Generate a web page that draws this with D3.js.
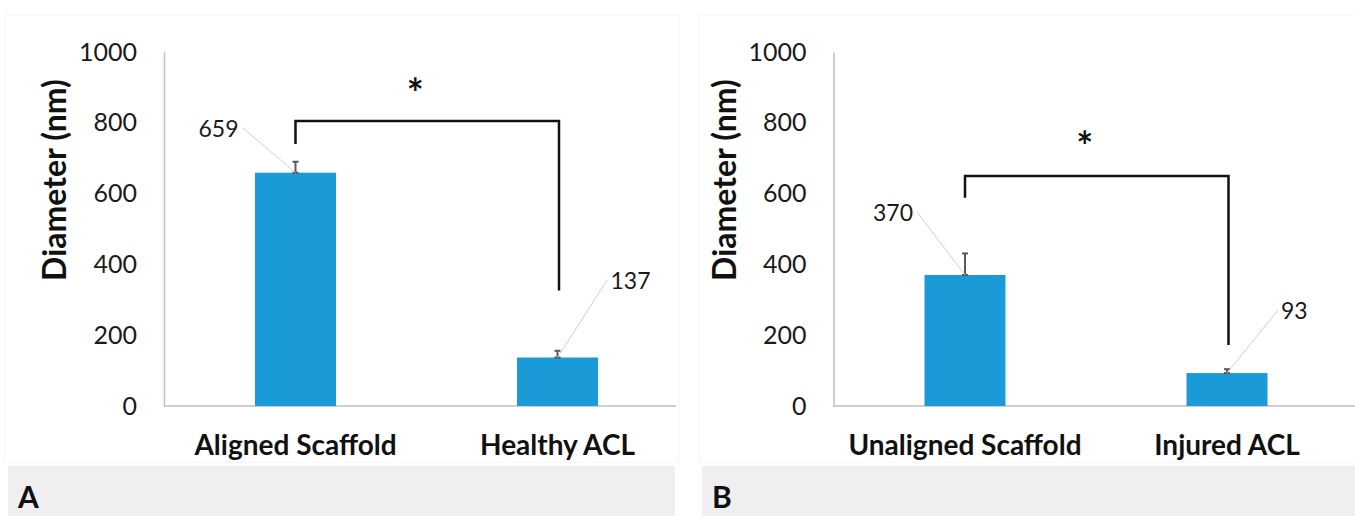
<!DOCTYPE html>
<html><head><meta charset="utf-8">
<script src="https://cdn.jsdelivr.net/npm/d3@7"></script>
<style>
html,body{margin:0;padding:0;background:#fff;}
svg{display:block;}
text{font-family:Lato,"Open Sans",sans-serif;}
</style></head>
<body>
<svg id="c" width="1355" height="516"></svg>
<script>
// ---- data ----
const panelLetters = ["A", "B"];
const categoriesA = ["Aligned Scaffold", "Healthy ACL"];
const valuesA = [659, 137];
const errorsA = [31, 19];
const categoriesB = ["Unaligned Scaffold", "Injured ACL"];
const valuesB = [370, 93];
const errorsB = [61, 11];
const yTicks = [0, 200, 400, 600, 800, 1000];
const yTitle = "Diameter (nm)";
// significance bracket (data units): [left leg bottom, top, right leg bottom]
const bracketA = [740, 805, 326];
const bracketB = [588, 650, 172];
const starA = 890, starB = 740;

// ---- layout / style ----
const BAR = "#1a9bd7";
const panels = [
  {x0: 164, cats: categoriesA, vals: valuesA, errs: errorsA, bracket: bracketA, star: starA, letter: panelLetters[0],
   frame: [5, 15, 674, 447], box: [8, 466, 667, 50], baseEnd: 676,
   labels: [{side: "left", lx: -53, ly: -45}, {side: "right", lx: 50, ly: -78}]},
  {x0: 833.5, cats: categoriesB, vals: valuesB, errs: errorsB, bracket: bracketB, star: starB, letter: panelLetters[1],
   frame: [699, 15, 660, 447], box: [702, 466, 653, 50], baseEnd: 1355,
   labels: [{side: "left", lx: -48, ly: -63}, {side: "right", lx: 51, ly: -63}]}
];

const svg = d3.select("#c");
const y = d3.scaleLinear().domain([0, 1000]).range([406, 52]);

panels.forEach(p => {
  const g = svg.append("g");
  // faint frame
  g.append("rect").attr("x", p.frame[0]).attr("y", p.frame[1]).attr("width", p.frame[2]).attr("height", p.frame[3])
    .attr("fill", "none").attr("stroke", "#f6f6f6").attr("stroke-width", 1);
  // bottom grey box
  g.append("rect").attr("x", p.box[0]).attr("y", p.box[1]).attr("width", p.box[2]).attr("height", p.box[3])
    .attr("fill", "#efefef");
  g.append("text").attr("x", p.box[0] + 10).attr("y", p.box[1] + 42)
    .attr("font-size", 30).attr("font-weight", 700).attr("fill", "#111").text(p.letter);

  const x = d3.scalePoint().domain(p.cats).range([p.x0 + 131.5, p.x0 + 393.5]);
  const bw = 81;

  // y axis
  const ax = g.append("g").attr("transform", `translate(${p.x0},0)`)
    .call(d3.axisLeft(y).tickValues(yTicks).tickFormat(d3.format("d")).tickSize(0).tickPadding(27).tickSizeOuter(0));
  ax.select(".domain").attr("stroke", "#bfbfbf").attr("stroke-width", 1.5);
  ax.selectAll("text").attr("font-size", 25).attr("fill", "#1a1a1a").attr("font-family", "Lato");

  // baseline
  g.append("line").attr("x1", p.x0).attr("x2", p.baseEnd).attr("y1", y(0)).attr("y2", y(0))
    .attr("stroke", "#bfbfbf").attr("stroke-width", 1.5);

  // y title
  g.append("text").attr("transform", `translate(${p.x0 - 98},180) rotate(-90)`)
    .attr("text-anchor", "middle").attr("font-size", 32).attr("font-weight", 700).attr("fill", "#111")
    .text(yTitle);

  // category labels
  g.selectAll(".cat").data(p.cats).enter().append("text")
    .attr("x", d => x(d)).attr("y", 455).attr("text-anchor", "middle")
    .attr("font-size", 28).attr("font-weight", 700).attr("fill", "#111").text(d => d);

  // bars
  g.selectAll(".bar").data(p.vals).enter().append("rect")
    .attr("x", (d, i) => x(p.cats[i]) - bw / 2).attr("width", bw)
    .attr("y", d => y(d)).attr("height", d => y(0) - y(d)).attr("fill", BAR);

  // error bars
  p.vals.forEach((v, i) => {
    const cx = x(p.cats[i]);
    const eg = g.append("g").attr("stroke", "#595959").attr("stroke-width", 2);
    eg.append("line").attr("x1", cx).attr("x2", cx).attr("y1", y(v)).attr("y2", y(v + p.errs[i]));
    eg.append("line").attr("x1", cx - 3).attr("x2", cx + 3).attr("y1", y(v + p.errs[i])).attr("y2", y(v + p.errs[i]));
    eg.append("line").attr("x1", cx - 3).attr("x2", cx + 3).attr("y1", y(v)).attr("y2", y(v));
  });

  // data labels with leader lines
  p.vals.forEach((v, i) => {
    const cx = x(p.cats[i]), cy = y(v);
    const L = p.labels[i];
    const lx = cx + L.lx, ly = cy + L.ly;
    g.append("line").attr("x1", cx).attr("y1", cy).attr("x2", lx).attr("y2", ly)
      .attr("stroke", "#cfcfcf").attr("stroke-width", 1);
    g.append("text").attr("x", L.side === "left" ? lx - 4 : lx + 3).attr("y", ly + 9)
      .attr("text-anchor", L.side === "left" ? "end" : "start")
      .attr("font-size", 23).attr("fill", "#1a1a1a").text(v);
  });

  // significance bracket
  const xl = x(p.cats[0]), xr = x(p.cats[1]) + 1.5;
  g.append("path")
    .attr("d", `M${xl},${y(p.bracket[0])}V${y(p.bracket[1])}H${xr}V${y(p.bracket[2])}`)
    .attr("fill", "none").attr("stroke", "#111").attr("stroke-width", 2.5);
  g.append("text").attr("x", (xl + xr) / 2 - 12).attr("y", y(p.star) + 17)
    .attr("text-anchor", "middle").attr("font-size", 40).attr("font-weight", 700).attr("fill", "#111").text("*");
});
</script>
</body></html>
